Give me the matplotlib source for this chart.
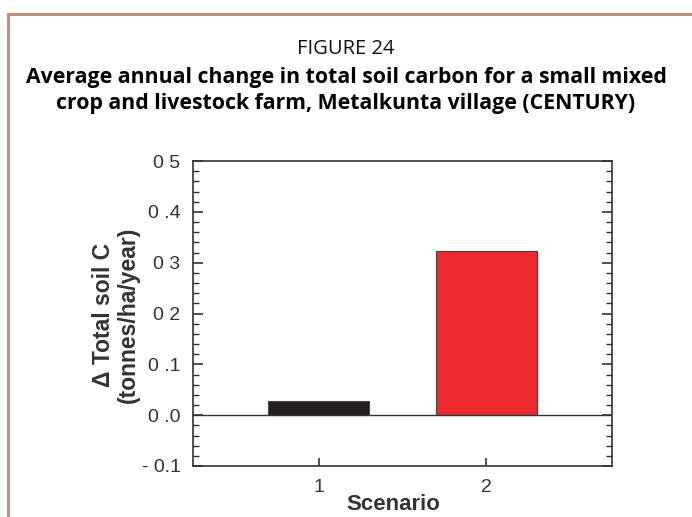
import matplotlib
matplotlib.use('Agg')
from matplotlib import pyplot as plt
from matplotlib.ticker import MultipleLocator

scenarios = [1, 2]
soil_c = [0.027, 0.323]
bar_colors = ['#231f20', '#ec2a2f']
ytick_vals = [-0.1, 0.0, 0.1, 0.2, 0.3, 0.4, 0.5]
ytick_text = ['- 0.1', '0 .0', '0 .1', '0 2', '0 3', '0 .4', '0 5']

fig = plt.figure(figsize=(6.92, 5.17), dpi=100)

# page frame
fig.add_artist(plt.Line2D([8/692, 1.0], [1-14/517, 1-14/517], color='#b8937a', lw=2.2))
fig.add_artist(plt.Line2D([8/692, 8/692], [0.0, 1-14/517], color='#b8937a', lw=2.2))

fig.text(0.5, 1-49/517, 'FIGURE 24', ha='center', va='center',
         family='Open Sans', fontsize=14.5, color='#111111')
fig.text(0.5, 1-78/517, 'Average annual change in total soil carbon for a small mixed',
         ha='center', va='center', family='Open Sans', fontweight='bold', fontsize=15.3)
fig.text(0.5, 1-104/517, 'crop and livestock farm, Metalkunta village (CENTURY)',
         ha='center', va='center', family='Open Sans', fontweight='bold', fontsize=15.3)

ax = fig.add_axes([193/692, 1-466/517, 419/692, 305/517])
ax.bar(scenarios, soil_c, width=0.6, color=bar_colors, edgecolor='#444444', linewidth=0.8, zorder=2)
ax.axhline(0, color='#333333', lw=1.0, zorder=3)

ax.set_xlim(0.25, 2.75)
ax.set_ylim(-0.1, 0.5)
ax.set_xticks(scenarios)
ax.set_xticklabels(['1', '2'], family='Liberation Sans', fontsize=14, color='#333333')
ax.set_yticks(ytick_vals)
ax.set_yticklabels(ytick_text, family='Liberation Sans', fontsize=14, color='#333333')
ax.yaxis.set_minor_locator(MultipleLocator(0.02))
ax.tick_params(axis='y', which='both', direction='in', left=True, right=True, color='#333333')
ax.tick_params(axis='y', which='major', length=7, width=1.2, pad=9)
ax.tick_params(axis='y', which='minor', length=4, width=1.0)
ax.tick_params(axis='x', direction='in', length=6, width=1.2, pad=9, color='#333333')
for s in ax.spines.values():
    s.set_color('#333333')
    s.set_linewidth(1.2)

fig.text(103/692, 1-315/517, '\u0394 Total soil C', rotation=90, ha='center', va='center',
         family='Liberation Sans', fontweight='bold', fontsize=16.5, color='#333333')
fig.text(128/692, 1-315/517, '(tonnes/ha/year)', rotation=90, ha='center', va='center',
         family='Liberation Sans', fontweight='bold', fontsize=16.5, color='#333333')
fig.text(393/692, 1-505/517, 'Scenario', ha='center', va='center',
         family='Liberation Sans', fontweight='bold', fontsize=16, color='#333333')

fig.savefig('out.png', dpi=100)
